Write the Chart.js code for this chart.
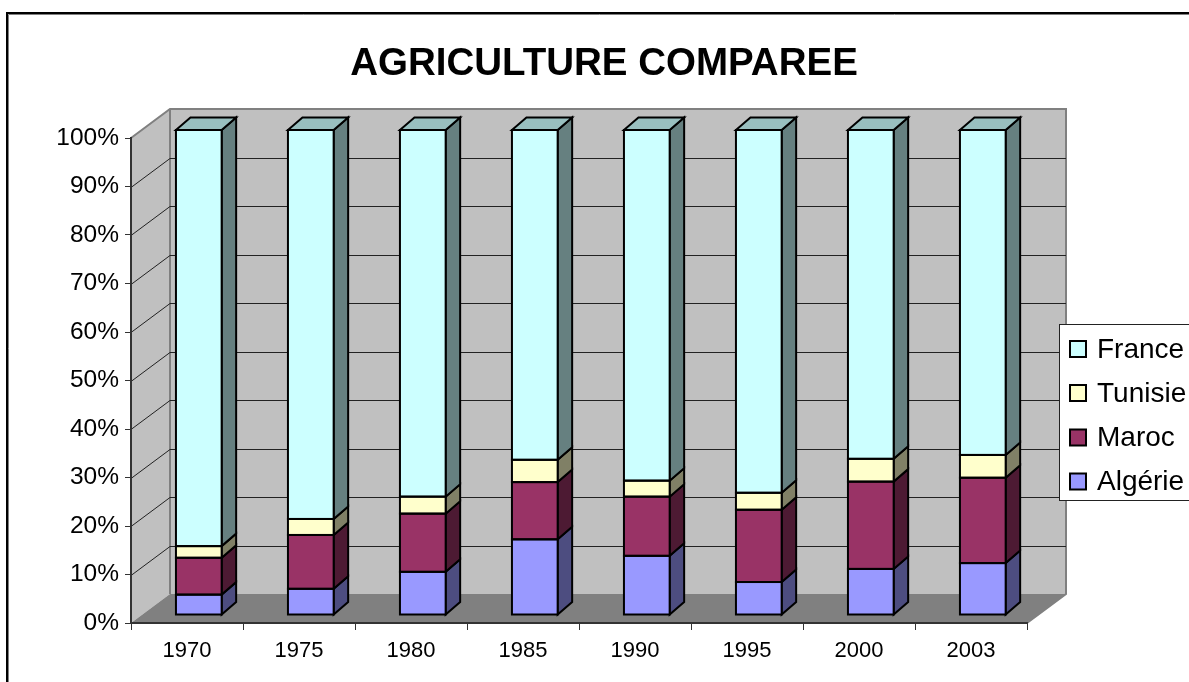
<!DOCTYPE html>
<html>
<head>
<meta charset="utf-8">
<title>Agriculture comparée</title>
<script src="https://cdn.jsdelivr.net/npm/chart.js@4/dist/chart.umd.js"></script>
<style>
html,body{margin:0;padding:0;background:#fff;overflow:hidden}
#box{position:relative;width:1189px;height:682px}
</style>
</head>
<body>
<div id="box"><canvas id="chart"></canvas></div>
<script>
// Share of each country per year, in percent of the stacked column
const years   = ['1970','1975','1980','1985','1990','1995','2000','2003'];
const algerie = [4.2, 5.4, 8.9, 15.6, 12.2, 6.8, 9.5, 10.7];
const maroc   = [7.6, 11.1, 12.0, 11.8, 12.2, 14.9, 18.0, 17.6];
const tunisie = [2.4, 3.3, 3.5, 4.6, 3.3, 3.5, 4.7, 4.7];
const france  = [85.8, 80.2, 75.6, 68.0, 72.3, 74.8, 67.8, 67.0];

// Oblique projection of the chart box and of the columns inside it
const WALL = {dx: 39, dy: -29};
const BAR_SHIFT = {dx: 11.8, dy: -8};
const BAR_DEPTH = {dx: 14.5, dy: -12.5};

const series = [
  {label: 'Algérie', data: algerie, front: '#9999FF', side: '#4D4D80', top: '#7373BF'},
  {label: 'Maroc',   data: maroc,   front: '#993366', side: '#4D1A33', top: '#73264D'},
  {label: 'Tunisie', data: tunisie, front: '#FFFFCC', side: '#808066', top: '#BFBF99'},
  {label: 'France',  data: france,  front: '#CCFFFF', side: '#668080', top: '#99BFBF'}
];

function poly(ctx, pts, fill, stroke, lw) {
  ctx.beginPath();
  pts.forEach((p, i) => i ? ctx.lineTo(p[0], p[1]) : ctx.moveTo(p[0], p[1]));
  ctx.closePath();
  if (fill) { ctx.fillStyle = fill; ctx.fill(); }
  if (stroke) { ctx.strokeStyle = stroke; ctx.lineWidth = lw; ctx.lineJoin = 'miter'; ctx.stroke(); }
}

// Page frame, side wall, back wall, floor and their gridlines
const boxPlugin = {
  id: 'box3d',
  beforeDraw(chart) {
    const {ctx, chartArea: a, scales} = chart;
    const y = scales.y;
    const bx = a.left + WALL.dx, by = a.bottom + WALL.dy, tx = a.top + WALL.dy, rx = a.right + WALL.dx;
    ctx.save();

    ctx.strokeStyle = '#808080'; ctx.lineWidth = 1;
    ctx.beginPath(); ctx.moveTo(8.5, 690); ctx.lineTo(8.5, 14.5); ctx.lineTo(1195, 14.5); ctx.stroke();
    ctx.strokeStyle = '#000'; ctx.lineWidth = 2;
    ctx.beginPath(); ctx.moveTo(7, 690); ctx.lineTo(7, 13); ctx.lineTo(1195, 13); ctx.stroke();

    poly(ctx, [[a.left, a.top], [bx, tx], [bx, by], [a.left, a.bottom]], '#C0C0C0');
    poly(ctx, [[bx, tx], [rx, tx], [rx, by], [bx, by]], '#C0C0C0');
    poly(ctx, [[a.left, a.bottom], [bx, by], [rx, by], [a.right, a.bottom]], '#808080');

    ctx.strokeStyle = '#808080'; ctx.lineWidth = 2;
    ctx.beginPath();
    ctx.moveTo(a.left, a.top); ctx.lineTo(bx, tx); ctx.lineTo(rx, tx); ctx.lineTo(rx, by); ctx.lineTo(a.right, a.bottom);
    ctx.moveTo(bx, tx); ctx.lineTo(bx, by);
    ctx.stroke();

    ctx.strokeStyle = '#222'; ctx.lineWidth = 1;
    y.ticks.forEach(t => {
      if (t.value === 0 || t.value === 100) return;
      const py = Math.round(y.getPixelForValue(t.value)) + 0.5;
      const wy = py + WALL.dy;
      ctx.beginPath();
      ctx.moveTo(a.left, py); ctx.lineTo(bx, wy); ctx.lineTo(rx, wy);
      ctx.stroke();
    });
    ctx.restore();
  },
  beforeDatasetsDraw(chart) {
    const ctx = chart.ctx;
    ctx.save();
    ctx.translate(BAR_SHIFT.dx, BAR_SHIFT.dy);
    // Side and top faces sit behind the native front rectangles
    chart.data.datasets.forEach((ds, i) => {
      const s = series[i];
      chart.getDatasetMeta(i).data.forEach(el => {
        const r = el.x + el.width / 2, l = el.x - el.width / 2;
        const d = BAR_DEPTH;
        poly(ctx, [[r, el.y], [r + d.dx, el.y + d.dy], [r + d.dx, el.base + d.dy], [r, el.base]], s.side, '#000', 2);
        if (i === chart.data.datasets.length - 1) {
          poly(ctx, [[l, el.y], [l + d.dx, el.y + d.dy], [r + d.dx, el.y + d.dy], [r, el.y]], s.top, '#000', 2);
        }
      });
    });
  },
  afterDatasetsDraw(chart) {
    const ctx = chart.ctx;
    // One even outline per segment, centred on its edges so neighbours share a line
    ctx.strokeStyle = '#000';
    ctx.lineWidth = 2;
    chart.data.datasets.forEach((ds, i) => {
      chart.getDatasetMeta(i).data.forEach(el => {
        ctx.strokeRect(el.x - el.width / 2, el.y, el.width, el.base - el.y);
      });
    });
    ctx.restore();
  },
  afterLayout(chart) {
    // The title is centred on the whole frame, not on the plot
    chart.titleBlock.left = 0;
    chart.titleBlock.right = 1208;
  },
  afterDraw(chart) {
    const ctx = chart.ctx;
    ctx.save();
    ctx.fillStyle = '#fff';
    ctx.fillRect(1059, 324, 140, 176);
    ctx.strokeStyle = '#222'; ctx.lineWidth = 1;
    ctx.strokeRect(1059.5, 324.5, 140, 176);
    ctx.textBaseline = 'middle'; ctx.textAlign = 'left';
    ctx.font = '28px "Liberation Sans", Arial, sans-serif';
    const rows = [349, 393, 437.5, 481.5];
    series.slice().reverse().forEach((s, i) => {
      const cy = rows[i];
      ctx.fillStyle = s.front; ctx.strokeStyle = '#000'; ctx.lineWidth = 2;
      ctx.fillRect(1070, cy - 8, 16, 16);
      ctx.strokeRect(1070, cy - 8, 16, 16);
      ctx.fillStyle = '#000';
      ctx.fillText(s.label, 1097, cy + 1);
    });
    ctx.restore();
  }
};

new Chart(document.getElementById('chart'), {
  type: 'bar',
  data: {
    labels: years,
    datasets: series.map(s => ({
      label: s.label,
      data: s.data,
      backgroundColor: s.front,
      borderWidth: 0,
      clip: false,
      barPercentage: 0.408,
      categoryPercentage: 1
    }))
  },
  options: {
    responsive: true,
    maintainAspectRatio: false,
    animation: false,
    layout: {padding: {left: 0, right: 162, top: 41.5, bottom: 0}},
    plugins: {
      legend: {display: false},
      tooltip: {enabled: false},
      title: {
        display: true,
        text: 'AGRICULTURE COMPAREE',
        color: '#000',
        font: {family: '"Liberation Sans", Arial, sans-serif', size: 38.5, weight: 'bold', lineHeight: 1.2},
        padding: {top: 0, bottom: 50.3}
      }
    },
    scales: {
      x: {
        stacked: true,
        afterFit(scale) { scale.height = 59; },
        border: {color: '#333', width: 2},
        grid: {drawOnChartArea: false, drawTicks: true, tickLength: 7, color: '#333', offset: true},
        ticks: {color: '#000', padding: 8, maxRotation: 0, font: {family: '"Liberation Sans", Arial, sans-serif', size: 22}}
      },
      y: {
        stacked: true,
        min: 0,
        max: 100,
        afterFit(scale) { scale.width = 131; },
        border: {color: '#333', width: 2},
        grid: {drawOnChartArea: false, drawTicks: true, tickLength: 6, color: '#333'},
        ticks: {
          color: '#000', padding: 6, stepSize: 10,
          callback: v => v + '%',
          font: {family: '"Liberation Sans", Arial, sans-serif', size: 24.5}
        }
      }
    }
  },
  plugins: [boxPlugin]
});
</script>
</body>
</html>
